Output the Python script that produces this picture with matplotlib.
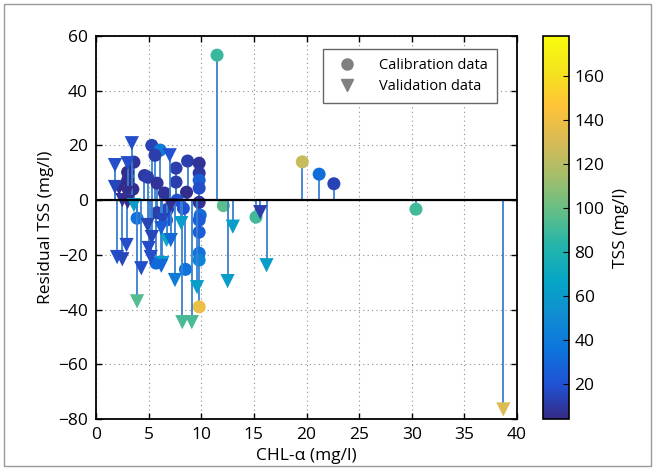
# Residual TSS vs CHL-a stem plot, calibration and validation sets

import numpy as np
import matplotlib
matplotlib.use("Agg")
from matplotlib import pyplot as plt
from matplotlib.colors import LinearSegmentedColormap, Normalize
from matplotlib.lines import Line2D
from matplotlib.patches import Rectangle

# calibration data
cal_chl = [11.5, 19.6, 21.2, 22.6, 5.3, 6.1, 5.6, 8.7, 9.8, 3.6, 7.6, 9.8, 3.0,
           4.6, 4.9, 5.8, 7.6, 9.8, 3.0, 6.5, 8.6, 9.8, 7.7, 9.8, 3.9, 5.8,
           6.8, 8.3, 6.7, 9.9, 9.8, 9.8, 9.8, 9.8, 8.5, 5.7, 9.8, 12.1, 15.2,
           30.4, 3.5]
cal_res = [53, 14, 9.5, 6, 20, 18.3, 16.4, 14.3, 13.5, 13.9, 11.7, 9.9, 10.2,
           9.0, 8.4, 6.2, 6.6, 7.3, 7.3, 2.6, 2.9, 4.4, 0.0, -0.8, -6.6, -4.6,
           -3.3, -3.0, -7.3, -5.5, -7.3, -11.7, -19.4, -21.9, -25.3, -23, -39,
           -2, -6.2, -3.3, 4.0]
cal_tss = [88, 125, 32, 14, 14, 40, 12, 12, 8, 8, 12, 10, 6,
           10, 12, 8, 12, 25, 6, 8, 6, 18, 20, 8, 35, 12,
           16, 20, 20, 30, 25, 25, 35, 45, 35, 30, 138, 97, 90,
           90, 6]

# validation data
val_chl = [1.8, 3.4, 3.0, 7.0, 2.2, 2.9, 2.5, 3.0, 3.6, 7.1, 4.9, 6.3, 2.9,
           2.0, 2.5, 4.3, 3.9, 5.3, 5.0, 5.2, 6.3, 6.7, 7.1, 6.2, 7.5, 8.1,
           9.6, 8.2, 9.1, 13.0, 12.5, 15.6, 16.2, 38.7, 1.8, 6.2]
val_res = [12.8, 20.8, 13.5, 16.4, 4.4, 2.6, 0.0, -0.7, -1.8, -1.8, -9.1, -7.3,
           -16.4, -20.8, -21.6, -24.9, -37, -13.5, -17.5, -20.8, -23, -14.6,
           -14.6, -10.2, -29.2, -8.4, -31.8, -44.6, -44.6, -9.7, -29.6, -4.4,
           -23.8, -76.5, 4.8, -24]
val_tss = [18, 18, 18, 20, 5, 6, 8, 6, 62, 8, 14, 15, 18,
           18, 15, 18, 95, 15, 18, 18, 62, 70, 30, 25, 40, 62,
           62, 92, 92, 62, 62, 12, 62, 132, 15, 30]

# parula-like colormap
parula = LinearSegmentedColormap.from_list("parula", [
    (0.2081, 0.1663, 0.5292), (0.1253, 0.3242, 0.8303),
    (0.0498, 0.4586, 0.8641), (0.0641, 0.5570, 0.8240),
    (0.0228, 0.6535, 0.7768), (0.1453, 0.7098, 0.6646),
    (0.3953, 0.7459, 0.5244), (0.6473, 0.7456, 0.4188),
    (0.8507, 0.7299, 0.3360), (0.9990, 0.7653, 0.2164),
    (0.9589, 0.8949, 0.1132), (0.9763, 0.9831, 0.0538)])
norm = Normalize(vmin=4, vmax=178)

plt.rcParams['font.family'] = ['Open Sans', 'DejaVu Sans']
plt.rcParams['font.size'] = 12

stem_c = (0.22, 0.5, 0.82)

fig = plt.figure(figsize=(6.55, 4.70), dpi=100)
ax = fig.add_axes([0.1466, 0.1085, 0.6427, 0.8149])
cax = fig.add_axes([0.829, 0.1085, 0.0397, 0.8149])

ax.vlines(cal_chl, 0, cal_res, color=stem_c, lw=1.3, zorder=2)
sc = ax.scatter(cal_chl, cal_res, c=cal_tss, cmap=parula, norm=norm,
                marker='o', s=88, edgecolors='none', zorder=3)
ax.vlines(val_chl, 0, val_res, color=stem_c, lw=1.3, zorder=4)
ax.scatter(val_chl, val_res, c=val_tss, cmap=parula, norm=norm,
           marker='v', s=105, edgecolors='none', zorder=5)
ax.axhline(0, color='k', lw=1.6, zorder=6)

ax.set_xlim(0, 40)
ax.set_ylim(-80, 60)
ax.set_xticks(np.arange(0, 41, 5))
ax.set_yticks(np.arange(-80, 61, 20))
ax.grid(True, color=(0.55, 0.55, 0.55), linestyle=(0, (1, 3)), lw=0.8)
ax.tick_params(direction='in', top=True, right=True, length=4, width=1,
               labelsize=12.5, pad=6)
for s in ax.spines.values():
    s.set_linewidth(1.3)
ax.set_xlabel("CHL-α (mg/l)", fontsize=12.5, labelpad=3)
ax.set_ylabel("Residual TSS (mg/l)", fontsize=12.5, labelpad=3)

handles = [Line2D([], [], marker='o', color=(0.5, 0.5, 0.5), ls='none', ms=8),
           Line2D([], [], marker='v', color=(0.5, 0.5, 0.5), ls='none', ms=9)]
leg = ax.legend(handles, ["Calibration data", "Validation data"],
                loc='upper right', bbox_to_anchor=(0.952, 0.966),
                borderaxespad=0, fontsize=10.5, frameon=True, fancybox=False,
                framealpha=1, edgecolor=(0.4, 0.4, 0.4), handlelength=2.1,
                handletextpad=1.15, labelspacing=0.45, borderpad=0.6)
leg.get_frame().set_linewidth(1.0)

cb = fig.colorbar(sc, cax=cax)
cb.set_ticks(np.arange(20, 161, 20))
cb.ax.tick_params(direction='in', length=4, labelsize=12.5, pad=4)
cb.outline.set_linewidth(1.2)
cb.set_label("TSS (mg/l)", fontsize=12.5, labelpad=6)

fig.patches.append(Rectangle((0.006, 0.008), 0.988, 0.984, transform=fig.transFigure,
                             fill=False, edgecolor=(0.6, 0.6, 0.6), lw=1.0))

fig.savefig("out.png", dpi=100)
